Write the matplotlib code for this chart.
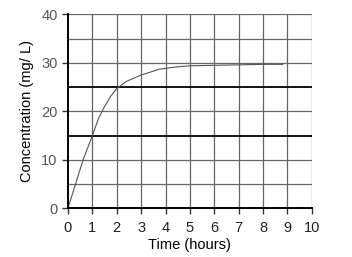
import numpy as np
import matplotlib.pyplot as plt

plt.rcParams['font.family'] = ['Liberation Sans', 'DejaVu Sans']

# curve
time_h = [0, 0.31, 0.62, 1.0, 1.25, 1.5, 1.75, 2.0, 2.4, 3.0, 3.75, 4.5, 5.0, 6.0, 7.0, 8.0, 8.8]
conc = [0, 5, 10, 15, 18.5, 21.0, 23.1, 24.7, 26.2, 27.5, 28.7, 29.2, 29.4, 29.5, 29.6, 29.7, 29.7]
x_ticks = list(range(0, 11))
y_ticks = [0, 10, 20, 30, 40]
y_grid = [0, 5, 10, 15, 20, 25, 30, 35, 40]
ref_lines = [15, 25]

fig = plt.figure(figsize=(3.52, 2.57), dpi=100)
ax = fig.add_axes([0.193, 0.189, 0.693, 0.755])

for x in x_ticks[1:]:
    ax.axvline(x, color='#666666', lw=0.9, zorder=1)
for y in y_grid[1:]:
    if y not in ref_lines:
        ax.axhline(y, color='#666666', lw=0.9, zorder=1)
for y in ref_lines:
    ax.axhline(y, color='black', lw=1.3, zorder=2)

ax.plot(time_h, conc, color='#555555', lw=0.8, zorder=3)

ax.set_xlim(0, 10)
ax.set_ylim(0, 40)
ax.set_xticks(x_ticks)
ax.set_yticks(y_ticks)
ax.tick_params(labelsize=10.5, length=4, width=1, color='#333333', pad=3.5)
ax.tick_params(axis='y', labelcolor='#555555')
ax.tick_params(axis='x', labelcolor='#222222', pad=5)
for s in ['top', 'right']:
    ax.spines[s].set_visible(False)
for s in ['left', 'bottom']:
    ax.spines[s].set_linewidth(1.4)
    ax.spines[s].set_zorder(4)

ax.set_xlabel('Time (hours)', fontsize=10.5, labelpad=2.5)
ax.set_ylabel('Concentration (mg/ L)', fontsize=10.5, labelpad=5)

plt.savefig('out.png', dpi=100)
